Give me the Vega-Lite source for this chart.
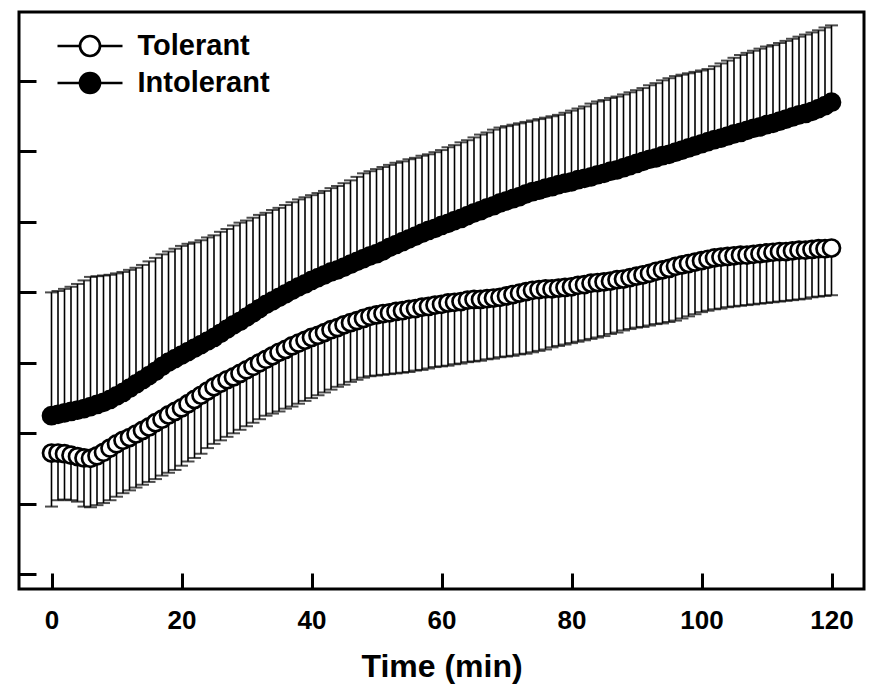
{
  "$schema": "https://vega.github.io/schema/vega-lite/v6.json",
  "width": 845,
  "height": 577,
  "autosize": {"type": "none"},
  "padding": {"left": 19, "top": 12, "right": 5, "bottom": 101},
  "background": "white",
  "config": {
    "view": {"stroke": "black", "strokeWidth": 3},
    "font": "Liberation Sans"
  },
  "data": {"values": [
{"t":0,"g":"Tolerant","m":17.2,"e":9.6},{"t":1,"g":"Tolerant","m":17.2,"e":10.5},{"t":2,"g":"Tolerant","m":17.1,"e":10.6},{"t":3,"g":"Tolerant","m":16.9,"e":10.5},{"t":4,"g":"Tolerant","m":16.7,"e":10.3},{"t":5,"g":"Tolerant","m":16.5,"e":9.6},{"t":6,"g":"Tolerant","m":16.45,"e":9.5},{"t":7,"g":"Tolerant","m":16.8,"e":9.8},{"t":8,"g":"Tolerant","m":17.3,"e":10.1},{"t":9,"g":"Tolerant","m":17.9,"e":10.5},
{"t":10,"g":"Tolerant","m":18.5,"e":11.0},{"t":11,"g":"Tolerant","m":19.0,"e":11.5},{"t":12,"g":"Tolerant","m":19.4,"e":11.9},{"t":13,"g":"Tolerant","m":19.9,"e":12.3},{"t":14,"g":"Tolerant","m":20.4,"e":12.7},{"t":15,"g":"Tolerant","m":20.9,"e":13.1},{"t":16,"g":"Tolerant","m":21.5,"e":13.5},{"t":17,"g":"Tolerant","m":22.0,"e":14.0},{"t":18,"g":"Tolerant","m":22.6,"e":14.4},{"t":19,"g":"Tolerant","m":23.1,"e":14.8},
{"t":20,"g":"Tolerant","m":23.6,"e":15.4},{"t":21,"g":"Tolerant","m":24.2,"e":16.0},{"t":22,"g":"Tolerant","m":24.8,"e":16.5},{"t":23,"g":"Tolerant","m":25.4,"e":17.1},{"t":24,"g":"Tolerant","m":26.0,"e":17.9},{"t":25,"g":"Tolerant","m":26.6,"e":18.5},{"t":26,"g":"Tolerant","m":27.1,"e":19.0},{"t":27,"g":"Tolerant","m":27.6,"e":19.5},{"t":28,"g":"Tolerant","m":28.0,"e":20.0},{"t":29,"g":"Tolerant","m":28.5,"e":20.5},
{"t":30,"g":"Tolerant","m":29.0,"e":21.0},{"t":31,"g":"Tolerant","m":29.5,"e":21.5},{"t":32,"g":"Tolerant","m":30.0,"e":22.0},{"t":33,"g":"Tolerant","m":30.5,"e":22.5},{"t":34,"g":"Tolerant","m":31.0,"e":22.8},{"t":35,"g":"Tolerant","m":31.5,"e":23.1},{"t":36,"g":"Tolerant","m":31.9,"e":23.5},{"t":37,"g":"Tolerant","m":32.4,"e":23.8},{"t":38,"g":"Tolerant","m":32.8,"e":24.2},{"t":39,"g":"Tolerant","m":33.2,"e":24.6},
{"t":40,"g":"Tolerant","m":33.6,"e":25.0},{"t":41,"g":"Tolerant","m":33.9,"e":25.4},{"t":42,"g":"Tolerant","m":34.3,"e":25.8},{"t":43,"g":"Tolerant","m":34.7,"e":26.2},{"t":44,"g":"Tolerant","m":35.0,"e":26.6},{"t":45,"g":"Tolerant","m":35.4,"e":26.9},{"t":46,"g":"Tolerant","m":35.7,"e":27.3},{"t":47,"g":"Tolerant","m":36.0,"e":27.6},{"t":48,"g":"Tolerant","m":36.3,"e":27.9},{"t":49,"g":"Tolerant","m":36.6,"e":28.1},
{"t":50,"g":"Tolerant","m":36.8,"e":28.2},{"t":51,"g":"Tolerant","m":37.0,"e":28.3},{"t":52,"g":"Tolerant","m":37.1,"e":28.4},{"t":53,"g":"Tolerant","m":37.3,"e":28.5},{"t":54,"g":"Tolerant","m":37.4,"e":28.6},{"t":55,"g":"Tolerant","m":37.6,"e":28.7},{"t":56,"g":"Tolerant","m":37.7,"e":28.9},{"t":57,"g":"Tolerant","m":37.9,"e":29.0},{"t":58,"g":"Tolerant","m":38.0,"e":29.2},{"t":59,"g":"Tolerant","m":38.2,"e":29.4},
{"t":60,"g":"Tolerant","m":38.3,"e":29.5},{"t":61,"g":"Tolerant","m":38.5,"e":29.6},{"t":62,"g":"Tolerant","m":38.6,"e":29.8},{"t":63,"g":"Tolerant","m":38.7,"e":29.9},{"t":64,"g":"Tolerant","m":38.9,"e":30.1},{"t":65,"g":"Tolerant","m":39.0,"e":30.2},{"t":66,"g":"Tolerant","m":39.0,"e":30.3},{"t":67,"g":"Tolerant","m":39.1,"e":30.5},{"t":68,"g":"Tolerant","m":39.2,"e":30.6},{"t":69,"g":"Tolerant","m":39.3,"e":30.8},
{"t":70,"g":"Tolerant","m":39.5,"e":30.9},{"t":71,"g":"Tolerant","m":39.7,"e":31.0},{"t":72,"g":"Tolerant","m":39.9,"e":31.2},{"t":73,"g":"Tolerant","m":40.1,"e":31.3},{"t":74,"g":"Tolerant","m":40.3,"e":31.5},{"t":75,"g":"Tolerant","m":40.4,"e":31.7},{"t":76,"g":"Tolerant","m":40.5,"e":31.9},{"t":77,"g":"Tolerant","m":40.5,"e":32.2},{"t":78,"g":"Tolerant","m":40.6,"e":32.4},{"t":79,"g":"Tolerant","m":40.7,"e":32.6},
{"t":80,"g":"Tolerant","m":40.8,"e":32.8},{"t":81,"g":"Tolerant","m":41.0,"e":33.0},{"t":82,"g":"Tolerant","m":41.1,"e":33.2},{"t":83,"g":"Tolerant","m":41.3,"e":33.4},{"t":84,"g":"Tolerant","m":41.4,"e":33.6},{"t":85,"g":"Tolerant","m":41.5,"e":33.8},{"t":86,"g":"Tolerant","m":41.6,"e":34.1},{"t":87,"g":"Tolerant","m":41.8,"e":34.3},{"t":88,"g":"Tolerant","m":41.9,"e":34.6},{"t":89,"g":"Tolerant","m":42.1,"e":34.8},
{"t":90,"g":"Tolerant","m":42.3,"e":35.0},{"t":91,"g":"Tolerant","m":42.5,"e":35.1},{"t":92,"g":"Tolerant","m":42.7,"e":35.3},{"t":93,"g":"Tolerant","m":43.0,"e":35.5},{"t":94,"g":"Tolerant","m":43.2,"e":35.6},{"t":95,"g":"Tolerant","m":43.4,"e":35.8},{"t":96,"g":"Tolerant","m":43.7,"e":36.0},{"t":97,"g":"Tolerant","m":43.9,"e":36.3},{"t":98,"g":"Tolerant","m":44.1,"e":36.6},{"t":99,"g":"Tolerant","m":44.3,"e":36.9},
{"t":100,"g":"Tolerant","m":44.5,"e":37.2},{"t":101,"g":"Tolerant","m":44.7,"e":37.4},{"t":102,"g":"Tolerant","m":44.9,"e":37.6},{"t":103,"g":"Tolerant","m":45.0,"e":37.7},{"t":104,"g":"Tolerant","m":45.1,"e":37.9},{"t":105,"g":"Tolerant","m":45.2,"e":38.0},{"t":106,"g":"Tolerant","m":45.3,"e":38.1},{"t":107,"g":"Tolerant","m":45.3,"e":38.2},{"t":108,"g":"Tolerant","m":45.4,"e":38.3},{"t":109,"g":"Tolerant","m":45.5,"e":38.4},
{"t":110,"g":"Tolerant","m":45.6,"e":38.5},{"t":111,"g":"Tolerant","m":45.7,"e":38.6},{"t":112,"g":"Tolerant","m":45.8,"e":38.7},{"t":113,"g":"Tolerant","m":45.8,"e":38.8},{"t":114,"g":"Tolerant","m":45.9,"e":38.9},{"t":115,"g":"Tolerant","m":46.0,"e":39.0},{"t":116,"g":"Tolerant","m":46.0,"e":39.1},{"t":117,"g":"Tolerant","m":46.1,"e":39.3},{"t":118,"g":"Tolerant","m":46.2,"e":39.4},{"t":119,"g":"Tolerant","m":46.2,"e":39.5},
{"t":120,"g":"Tolerant","m":46.3,"e":39.6},
{"t":0,"g":"Intolerant","m":22.5,"e":40.0},{"t":1,"g":"Intolerant","m":22.7,"e":40.2},{"t":2,"g":"Intolerant","m":22.9,"e":40.5},{"t":3,"g":"Intolerant","m":23.1,"e":40.8},{"t":4,"g":"Intolerant","m":23.3,"e":41.2},{"t":5,"g":"Intolerant","m":23.5,"e":41.7},{"t":6,"g":"Intolerant","m":23.8,"e":42.2},{"t":7,"g":"Intolerant","m":24.1,"e":42.3},{"t":8,"g":"Intolerant","m":24.4,"e":42.4},{"t":9,"g":"Intolerant","m":24.8,"e":42.5},
{"t":10,"g":"Intolerant","m":25.3,"e":42.7},{"t":11,"g":"Intolerant","m":25.8,"e":42.9},{"t":12,"g":"Intolerant","m":26.4,"e":43.2},{"t":13,"g":"Intolerant","m":27.0,"e":43.5},{"t":14,"g":"Intolerant","m":27.6,"e":43.9},{"t":15,"g":"Intolerant","m":28.2,"e":44.4},{"t":16,"g":"Intolerant","m":28.8,"e":44.9},{"t":17,"g":"Intolerant","m":29.5,"e":45.4},{"t":18,"g":"Intolerant","m":30.1,"e":45.8},{"t":19,"g":"Intolerant","m":30.6,"e":46.2},
{"t":20,"g":"Intolerant","m":31.1,"e":46.6},{"t":21,"g":"Intolerant","m":31.6,"e":46.9},{"t":22,"g":"Intolerant","m":32.1,"e":47.1},{"t":23,"g":"Intolerant","m":32.6,"e":47.4},{"t":24,"g":"Intolerant","m":33.1,"e":47.8},{"t":25,"g":"Intolerant","m":33.6,"e":48.1},{"t":26,"g":"Intolerant","m":34.2,"e":48.6},{"t":27,"g":"Intolerant","m":34.8,"e":49.0},{"t":28,"g":"Intolerant","m":35.4,"e":49.5},{"t":29,"g":"Intolerant","m":35.9,"e":49.9},
{"t":30,"g":"Intolerant","m":36.5,"e":50.2},{"t":31,"g":"Intolerant","m":37.1,"e":50.6},{"t":32,"g":"Intolerant","m":37.7,"e":51.0},{"t":33,"g":"Intolerant","m":38.3,"e":51.3},{"t":34,"g":"Intolerant","m":38.8,"e":51.7},{"t":35,"g":"Intolerant","m":39.3,"e":52.0},{"t":36,"g":"Intolerant","m":39.8,"e":52.4},{"t":37,"g":"Intolerant","m":40.3,"e":52.8},{"t":38,"g":"Intolerant","m":40.8,"e":53.2},{"t":39,"g":"Intolerant","m":41.2,"e":53.5},
{"t":40,"g":"Intolerant","m":41.7,"e":53.8},{"t":41,"g":"Intolerant","m":42.1,"e":54.1},{"t":42,"g":"Intolerant","m":42.5,"e":54.4},{"t":43,"g":"Intolerant","m":42.9,"e":54.8},{"t":44,"g":"Intolerant","m":43.2,"e":55.1},{"t":45,"g":"Intolerant","m":43.6,"e":55.5},{"t":46,"g":"Intolerant","m":44.0,"e":55.9},{"t":47,"g":"Intolerant","m":44.4,"e":56.4},{"t":48,"g":"Intolerant","m":44.8,"e":56.9},{"t":49,"g":"Intolerant","m":45.2,"e":57.2},
{"t":50,"g":"Intolerant","m":45.5,"e":57.5},{"t":51,"g":"Intolerant","m":45.9,"e":57.8},{"t":52,"g":"Intolerant","m":46.4,"e":58.1},{"t":53,"g":"Intolerant","m":46.8,"e":58.4},{"t":54,"g":"Intolerant","m":47.2,"e":58.6},{"t":55,"g":"Intolerant","m":47.6,"e":58.9},{"t":56,"g":"Intolerant","m":48.0,"e":59.1},{"t":57,"g":"Intolerant","m":48.4,"e":59.4},{"t":58,"g":"Intolerant","m":48.8,"e":59.6},{"t":59,"g":"Intolerant","m":49.1,"e":59.9},
{"t":60,"g":"Intolerant","m":49.5,"e":60.2},{"t":61,"g":"Intolerant","m":49.8,"e":60.6},{"t":62,"g":"Intolerant","m":50.2,"e":60.9},{"t":63,"g":"Intolerant","m":50.5,"e":61.3},{"t":64,"g":"Intolerant","m":50.9,"e":61.6},{"t":65,"g":"Intolerant","m":51.3,"e":62.0},{"t":66,"g":"Intolerant","m":51.6,"e":62.4},{"t":67,"g":"Intolerant","m":52.0,"e":62.7},{"t":68,"g":"Intolerant","m":52.3,"e":63.1},{"t":69,"g":"Intolerant","m":52.7,"e":63.4},
{"t":70,"g":"Intolerant","m":53.0,"e":63.6},{"t":71,"g":"Intolerant","m":53.3,"e":63.8},{"t":72,"g":"Intolerant","m":53.6,"e":64.0},{"t":73,"g":"Intolerant","m":54.0,"e":64.2},{"t":74,"g":"Intolerant","m":54.3,"e":64.4},{"t":75,"g":"Intolerant","m":54.5,"e":64.6},{"t":76,"g":"Intolerant","m":54.8,"e":64.8},{"t":77,"g":"Intolerant","m":55.0,"e":65.0},{"t":78,"g":"Intolerant","m":55.3,"e":65.2},{"t":79,"g":"Intolerant","m":55.5,"e":65.5},
{"t":80,"g":"Intolerant","m":55.7,"e":65.8},{"t":81,"g":"Intolerant","m":56.0,"e":66.1},{"t":82,"g":"Intolerant","m":56.2,"e":66.4},{"t":83,"g":"Intolerant","m":56.4,"e":66.8},{"t":84,"g":"Intolerant","m":56.7,"e":67.1},{"t":85,"g":"Intolerant","m":56.9,"e":67.3},{"t":86,"g":"Intolerant","m":57.2,"e":67.6},{"t":87,"g":"Intolerant","m":57.4,"e":67.8},{"t":88,"g":"Intolerant","m":57.7,"e":68.1},{"t":89,"g":"Intolerant","m":58.0,"e":68.4},
{"t":90,"g":"Intolerant","m":58.3,"e":68.7},{"t":91,"g":"Intolerant","m":58.6,"e":69.0},{"t":92,"g":"Intolerant","m":58.9,"e":69.4},{"t":93,"g":"Intolerant","m":59.1,"e":69.7},{"t":94,"g":"Intolerant","m":59.4,"e":70.1},{"t":95,"g":"Intolerant","m":59.6,"e":70.4},{"t":96,"g":"Intolerant","m":59.9,"e":70.7},{"t":97,"g":"Intolerant","m":60.2,"e":70.9},{"t":98,"g":"Intolerant","m":60.5,"e":71.1},{"t":99,"g":"Intolerant","m":60.8,"e":71.3},
{"t":100,"g":"Intolerant","m":61.1,"e":71.5},{"t":101,"g":"Intolerant","m":61.4,"e":71.7},{"t":102,"g":"Intolerant","m":61.7,"e":72.1},{"t":103,"g":"Intolerant","m":61.9,"e":72.5},{"t":104,"g":"Intolerant","m":62.2,"e":72.9},{"t":105,"g":"Intolerant","m":62.5,"e":73.3},{"t":106,"g":"Intolerant","m":62.7,"e":73.7},{"t":107,"g":"Intolerant","m":63.0,"e":74.0},{"t":108,"g":"Intolerant","m":63.3,"e":74.3},{"t":109,"g":"Intolerant","m":63.5,"e":74.6},
{"t":110,"g":"Intolerant","m":63.8,"e":74.9},{"t":111,"g":"Intolerant","m":64.0,"e":75.1},{"t":112,"g":"Intolerant","m":64.3,"e":75.4},{"t":113,"g":"Intolerant","m":64.6,"e":75.7},{"t":114,"g":"Intolerant","m":64.9,"e":76.0},{"t":115,"g":"Intolerant","m":65.2,"e":76.3},{"t":116,"g":"Intolerant","m":65.4,"e":76.6},{"t":117,"g":"Intolerant","m":65.7,"e":76.9},{"t":118,"g":"Intolerant","m":66.1,"e":77.2},{"t":119,"g":"Intolerant","m":66.5,"e":77.6},
{"t":120,"g":"Intolerant","m":67.0,"e":77.9}
  ]},
  "encoding": {
    "x": {
      "field": "t", "type": "quantitative",
      "scale": {"domain": [-5, 125], "nice": false, "zero": false},
      "axis": {
        "title": "Time (min)", "values": [0, 20, 40, 60, 80, 100, 120],
        "domain": false, "grid": false,
        "tickSize": -16, "tickWidth": 3, "tickColor": "black",
        "labelFont": "Liberation Sans", "labelFontSize": 26, "labelFontWeight": "bold", "labelColor": "black",
        "labelPadding": 34, "labelFlush": false,
        "titleFont": "Liberation Sans", "titleFontSize": 32, "titleFontWeight": "bold", "titleColor": "black",
        "titlePadding": 18
      }
    }
  },
  "layer": [
    {
      "mark": {"type": "rule", "color": "black", "strokeWidth": 1.6},
      "encoding": {
        "y": {
          "field": "m", "type": "quantitative",
          "scale": {"domain": [-2.1, 79.8], "nice": false, "zero": false},
          "axis": {
            "title": null, "labels": false, "values": [0, 10, 20, 30, 40, 50, 60, 70],
            "domain": false, "grid": false,
            "tickSize": -17, "tickWidth": 3, "tickColor": "black"
          }
        },
        "y2": {"field": "e"}
      }
    },
    {
      "mark": {"type": "tick", "color": "black", "orient": "horizontal", "size": 13, "thickness": 2},
      "encoding": {
        "y": {"field": "e", "type": "quantitative"}
      }
    },
    {
      "mark": {"type": "point", "shape": "circle", "filled": true, "size": 290, "stroke": "black", "strokeWidth": 2.7, "opacity": 1},
      "encoding": {
        "y": {"field": "m", "type": "quantitative"},
        "fill": {
          "field": "g", "type": "nominal",
          "scale": {"domain": ["Tolerant", "Intolerant"], "range": ["white", "black"]},
          "legend": {
            "title": null,
            "orient": "none",
            "legendX": 56.5,
            "legendY": 19.5,
            "labelFont": "Liberation Sans",
            "labelFontSize": 29,
            "labelFontWeight": "bold",
            "labelColor": "black",
            "labelOffset": 33,
            "rowPadding": 6,
            "padding": 0,
            "symbolSize": 400,
            "symbolType": "M-3.25,0H-1M1,0H3.25M1,0A1,1,0,1,1,-1,0A1,1,0,1,1,1,0Z",
            "symbolStrokeColor": "black",
            "symbolStrokeWidth": 2.7,
            "encode": {
              "symbols": {
                "update": {
                  "shape": {"value": "M-3.25,0H-1M1,0H3.25M1,0A1,1,0,1,1,-1,0A1,1,0,1,1,1,0Z"},
                  "size": {"value": 400},
                  "stroke": {"value": "black"},
                  "strokeWidth": {"value": 2.7},
                  "opacity": {"value": 1}
                }
              }
            }
          }
        }
      }
    }
  ]
}
